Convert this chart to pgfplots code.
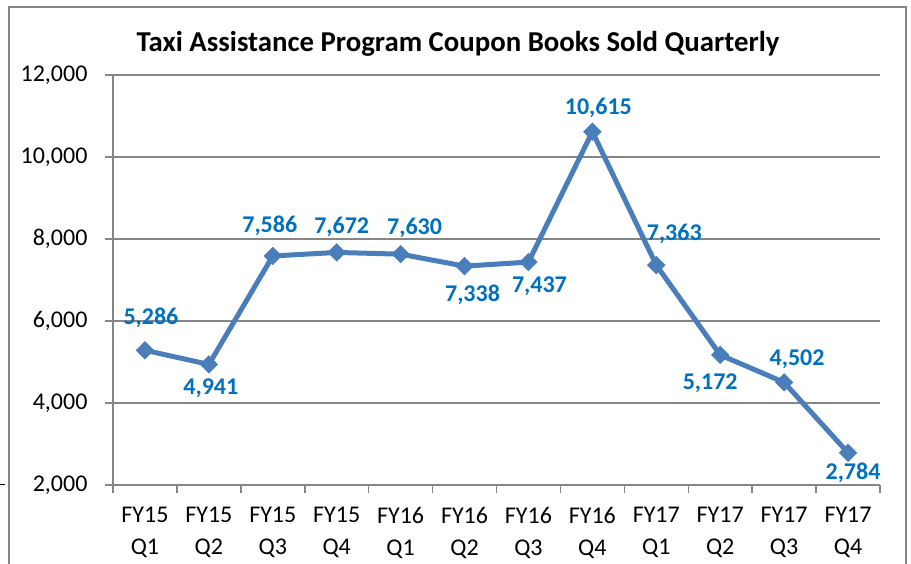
\documentclass[border=0pt]{standalone}
\usepackage{pgfplots}
\pgfplotsset{compat=1.18}
\usepackage{pgfplotstable}
\usepackage{fontspec}
\setmainfont{Carlito}
\definecolor{axgray}{RGB}{134,134,134}
\definecolor{linecol}{RGB}{74,126,187}
\definecolor{labcol}{RGB}{0,112,192}
\pgfplotstableread{
x y dx dy
0.5 5286 6 32
1.5 4941 2 -24
2.5 7586 -3 30
3.5 7672 5 26
4.5 7630 14 26
5.5 7338 8 -29
6.5 7437 11 -24
7.5 10615 6 24
8.5 7363 18 31
9.5 5172 -10 -28
10.5 4502 13 23
11.5 2784 5 -20
}\data
\begin{document}
\begin{tikzpicture}
\useasboundingbox (0,0) rectangle (911pt,564pt);
\draw[axgray, line width=1.5pt] (9pt,-10pt) rectangle (906pt,557pt);
\draw[black, line width=1pt] (0pt,79pt) -- (5pt,79pt);
\node[font=\fontsize{28.8}{32}\selectfont\bfseries] at (458pt,520pt) {Taxi Assistance Program Coupon Books Sold Quarterly};
\begin{axis}[
  at={(113pt,79pt)}, anchor=south west,
  scale only axis, width=767pt, height=410pt,
  xmin=0, xmax=12, ymin=2000, ymax=12000,
  axis x line*=bottom, axis y line*=left,
  axis line style={draw=axgray, line width=1.5pt},
  xtick={0,...,12},
  xticklabels={FY15\\Q1,FY15\\Q2,FY15\\Q3,FY15\\Q4,FY16\\Q1,FY16\\Q2,FY16\\Q3,FY16\\Q4,FY17\\Q1,FY17\\Q2,FY17\\Q3,FY17\\Q4},
  x tick label as interval,
  ytick={2000,4000,...,12000},
  scaled y ticks=false,
  ymajorgrids,
  grid style={draw=axgray, line width=1.5pt},
  tick align=outside,
  major tick length=8pt,
  every tick/.style={draw=axgray, line width=1.5pt},
  tick label style={font=\fontsize{24}{32}\selectfont, text=black},
  xticklabel style={align=center, yshift=-11pt},
  yticklabel style={xshift=-14pt},
  /pgf/number format/assume math mode=true,
  /pgf/number format/1000 sep={,},
  clip=false,
]
\addplot[color=linecol, line width=5pt, mark=square*, mark size=6pt,
  mark options={rotate=45, solid, fill=linecol, line width=1pt},
  visualization depends on={\thisrow{dx} \as \dx},
  visualization depends on={\thisrow{dy} \as \dy},
  nodes near coords,
  every node near coord/.style={anchor=center, xshift=\dx pt, yshift=\dy pt,
    font=\fontsize{24}{28}\selectfont\bfseries, text=labcol,
    /pgf/number format/assume math mode=true, /pgf/number format/1000 sep={,}},
] table[x=x, y=y] {\data};
\end{axis}
\end{tikzpicture}
\end{document}
